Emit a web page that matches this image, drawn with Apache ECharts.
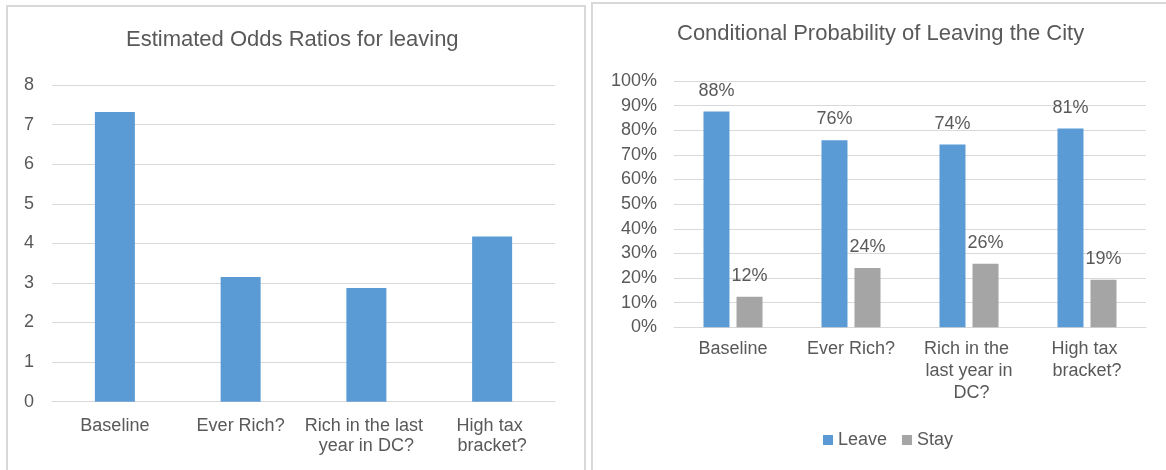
<!DOCTYPE html>
<html>
<head>
<meta charset="utf-8">
<script src="https://cdn.jsdelivr.net/npm/echarts@6/dist/echarts.min.js"></script>
<style>
html,body{margin:0;padding:0;background:#fff;}
#c{width:1166px;height:470px;}
</style>
</head>
<body>
<div id="c"></div>
<script>
// ---- data ----
const categories = ['Baseline', 'Ever Rich?', 'Rich in the last year in DC?', 'High tax bracket?'];
const oddsRatios = [7.32, 3.15, 2.87, 4.17];
const leaveProb = [87.6, 75.9, 74.2, 80.7];
const stayProb = [12.4, 24.1, 25.8, 19.3];
const leftTitle = 'Estimated Odds Ratios for leaving';
const rightTitle = 'Conditional Probability of Leaving the City';
const seriesNames = ['Leave', 'Stay'];

const FONT = '"Liberation Sans", Arial, sans-serif';
const TXT = '#595959';
const GRID = '#d9d9d9';

const chart = echarts.init(document.getElementById('c'), null, {renderer: 'canvas'});
chart.setOption({
  animation: false,
  backgroundColor: '#fff',
  textStyle: {fontFamily: FONT},
  graphic: [
    {type: 'rect', silent: true, z: -1, shape: {x: 7, y: 6, width: 578, height: 480},
     style: {fill: 'none', stroke: GRID, lineWidth: 2}},
    {type: 'rect', silent: true, z: -1, shape: {x: 592, y: 3, width: 620, height: 480},
     style: {fill: 'none', stroke: GRID, lineWidth: 2}}
  ],
  title: [
    {text: leftTitle, left: 126, top: 29, padding: 0,
     textStyle: {fontFamily: FONT, fontSize: 22, fontWeight: 'normal', color: TXT}},
    {text: rightTitle, left: 677, top: 23, padding: 0,
     textStyle: {fontFamily: FONT, fontSize: 22, fontWeight: 'normal', color: TXT}}
  ],
  legend: {
    data: seriesNames,
    left: 823, top: 431, padding: 0,
    icon: 'rect', itemWidth: 10, itemHeight: 10, itemGap: 15,
    textStyle: {fontFamily: FONT, fontSize: 18, color: TXT}
  },
  grid: [
    {left: 52, right: 611, top: 85, bottom: 68.3},
    {left: 674, right: 20, top: 81, bottom: 142.7}
  ],
  xAxis: [
    {type: 'category', gridIndex: 0, data: categories,
     axisLine: {show: true, lineStyle: {color: GRID, width: 1}},
     axisTick: {show: false},
     axisLabel: {fontFamily: FONT, fontSize: 18, color: TXT, margin: 14, lineHeight: 20,
                 width: 124, overflow: 'break', interval: 0}},
    {type: 'category', gridIndex: 1, data: categories,
     axisLine: {show: true, lineStyle: {color: GRID, width: 1}},
     axisTick: {show: false},
     axisLabel: {fontFamily: FONT, fontSize: 18, color: TXT, margin: 11, lineHeight: 22,
                 width: 92, overflow: 'break', interval: 0}}
  ],
  yAxis: [
    {type: 'value', gridIndex: 0, min: 0, max: 8, interval: 1,
     axisLine: {show: false}, axisTick: {show: false},
     splitLine: {lineStyle: {color: GRID, width: 1}},
     axisLabel: {fontFamily: FONT, fontSize: 18, color: TXT, margin: 18}},
    {type: 'value', gridIndex: 1, min: 0, max: 100, interval: 10,
     axisLine: {show: false}, axisTick: {show: false},
     splitLine: {lineStyle: {color: GRID, width: 1}},
     axisLabel: {fontFamily: FONT, fontSize: 18, color: TXT, margin: 17, formatter: '{value}%'}}
  ],
  series: [
    {type: 'bar', name: 'Odds ratio', xAxisIndex: 0, yAxisIndex: 0, data: oddsRatios,
     barWidth: 40, itemStyle: {color: '#5b9bd5'}},
    {type: 'bar', name: seriesNames[0], xAxisIndex: 1, yAxisIndex: 1, data: leaveProb,
     barWidth: 26, barGap: '27%', itemStyle: {color: '#5b9bd5'},
     label: {show: true, position: 'top', distance: 12, fontFamily: FONT, fontSize: 18, color: TXT,
             formatter: p => Math.round(p.value) + '%'}},
    {type: 'bar', name: seriesNames[1], xAxisIndex: 1, yAxisIndex: 1, data: stayProb,
     barWidth: 26, barGap: '27%', itemStyle: {color: '#a5a5a5'},
     label: {show: true, position: 'top', distance: 12, fontFamily: FONT, fontSize: 18, color: TXT,
             formatter: p => Math.round(p.value) + '%'}}
  ]
});
</script>
</body>
</html>
